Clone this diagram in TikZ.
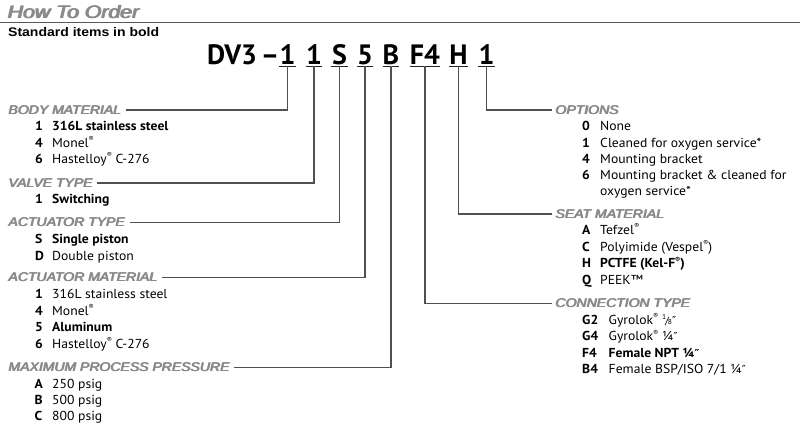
\documentclass[tikz,border=0pt]{standalone}
\usepackage{fontspec}
\setmainfont[FakeStretch=1.05]{PT Sans}
\newfontfamily\codefam{PT Sans}
\newfontfamily\lsans{Liberation Sans}
\newfontfamily\dvfont{DejaVu Sans}
\definecolor{hgray}{HTML}{8A8A8A}
\definecolor{lgray}{HTML}{505050}
\newcommand\regm{\raisebox{0.42em}{\scalebox{0.55}{®}}}
\newcommand\inchm{{\dvfont\scalebox{0.85}{″}}}
\newcommand\eighth{\raisebox{0.35em}{\scalebox{0.55}{1}}\kern-0.08em\scalebox{0.8}{/}\kern-0.08em\scalebox{0.55}{8}}
\newcommand\hx[1]{\scalebox{1.12}[1]{\rlap{#1}\rlap{\kern.45pt#1}\kern.9pt#1}}
\newcommand\tx[1]{\scalebox{1.18}[1]{\rlap{#1}\rlap{\kern.6pt#1}\kern1.2pt#1}}
\newcommand\hdrfont{\lsans\fontsize{12.5}{14}\selectfont\itshape}
\newcommand\itmfont{\fontsize{13}{15}\selectfont}
\newcommand\codefont{\codefam\fontsize{28}{32}\selectfont\bfseries}
\begin{document}
\begin{tikzpicture}[x=1pt,y=-1pt,
  hdr/.style={anchor=base west, inner sep=0pt, text=hgray, font=\hdrfont, text height=8pt, text depth=0pt},
  itm/.style={anchor=base west, inner sep=0pt, font=\itmfont},
  code/.style={anchor=base, inner sep=0pt, font=\codefont, text depth=2pt, minimum width=16pt},
  conn/.style={draw=lgray, line width=1.2pt},
  uline/.style={draw=black!85, line width=1.3pt},
  rule/.style={draw=black!65, line width=1pt}]
\useasboundingbox (0,0) rectangle (800,423);
% title
\node[anchor=base west, inner sep=0pt, text=hgray, font=\lsans\fontsize{18}{22}\selectfont\itshape] (title) at (7,18.5) {\tx{How To Order}};
\coordinate (rl) at (0,22);
\coordinate (rr) at (800,22);
\draw[rule] (rl) -- (rr);
\node[anchor=base west, inner sep=0pt, font=\lsans\fontsize{12.5}{15}\selectfont\bfseries] (std) at (8,36) {\scalebox{1.12}[1]{Standard items in bold}};
% part number
\node[anchor=base west, inner sep=0pt, font=\codefont] (dv) at (207,64) {DV3};
\node[anchor=base, inner sep=0pt, font=\codefont] (dash) at (270,64) {–};
\node[code] (c1) at (287.5,64) {1};
\node[code] (c2) at (314,64) {1};
\node[code] (c3) at (339.5,64) {S};
\node[code] (c4) at (365,64) {5};
\node[code] (c5) at (391,64) {B};
\node[code, minimum width=28pt] (c6) at (425,64) {F4};
\node[code] (c7) at (458.5,64) {H};
\node[code] (c8) at (486.5,64) {1};
\foreach \c in {c1,c2,c3,c4,c5,c6,c7,c8} \draw[uline] (\c.south west) -- (\c.south east);
% left headers
\node[hdr] (bm) at (8,114) {\hx{BODY MATERIAL}};
\node[hdr] (vt) at (8,187) {\hx{VALVE TYPE}};
\node[hdr] (at) at (8,226.7) {\hx{ACTUATOR TYPE}};
\node[hdr] (am) at (8,281.7) {\hx{ACTUATOR MATERIAL}};
\node[hdr] (mp) at (8,371.3) {\hx{MAXIMUM PROCESS PRESSURE}};
% right headers
\node[hdr] (op) at (555,114) {\hx{OPTIONS}};
\node[hdr] (sm) at (555,218) {\hx{SEAT MATERIAL}};
\node[hdr] (ct) at (555,307.7) {\hx{CONNECTION TYPE}};
% connectors
\draw[conn] (c1.south) |- ([xshift=4pt]bm.east);
\draw[conn] (c2.south) |- ([xshift=4pt]vt.east);
\draw[conn] (c3.south) |- ([xshift=4pt]at.east);
\draw[conn] (c4.south) |- ([xshift=4pt]am.east);
\draw[conn] (c5.south) |- ([xshift=4pt]mp.east);
\draw[conn] (c8.south) |- ([xshift=-3pt]op.west);
\draw[conn] (c7.south) |- ([xshift=-3pt]sm.west);
\draw[conn] (c6.south) |- ([xshift=-3pt]ct.west);
% body material
\node[itm] (bm1n) at (35,130.7) {\bfseries 1};
\node[itm] (bm1t) at (52,130.7) {\bfseries 316L stainless steel};
\node[itm] (bm2n) at (35,147) {\bfseries 4};
\node[itm] (bm2t) at (52,147) {Monel\regm};
\node[itm] (bm3n) at (35,163.3) {\bfseries 6};
\node[itm] (bm3t) at (52,163.3) {Hastelloy\regm\ C-276};
% valve type
\node[itm] (vt1n) at (35,203.3) {\bfseries 1};
\node[itm] (vt1t) at (52,203.3) {\bfseries Switching};
% actuator type
\node[itm] (at1n) at (35,243.3) {\bfseries S};
\node[itm] (at1t) at (52,243.3) {\bfseries Single piston};
\node[itm] (at2n) at (35,260) {\bfseries D};
\node[itm] (at2t) at (52,260) {Double piston};
% actuator material
\node[itm] (am1n) at (35,298.3) {\bfseries 1};
\node[itm] (am1t) at (52,298.3) {316L stainless steel};
\node[itm] (am2n) at (35,315) {\bfseries 4};
\node[itm] (am2t) at (52,315) {Monel\regm};
\node[itm] (am3n) at (35,331.7) {\bfseries 5};
\node[itm] (am3t) at (52,331.7) {\bfseries Aluminum};
\node[itm] (am4n) at (35,348.3) {\bfseries 6};
\node[itm] (am4t) at (52,348.3) {Hastelloy\regm\ C-276};
% max pressure
\node[itm] (mp1n) at (34.5,388) {\bfseries A};
\node[itm] (mp1t) at (52,388) {250 psig};
\node[itm] (mp2n) at (34.5,404.3) {\bfseries B};
\node[itm] (mp2t) at (52,404.3) {500 psig};
\node[itm] (mp3n) at (34.5,420.3) {\bfseries C};
\node[itm] (mp3t) at (52,420.3) {800 psig};
% options
\node[itm] (op1n) at (582,130.7) {\bfseries 0};
\node[itm] (op1t) at (600,130.7) {None};
\node[itm] (op2n) at (582,147) {\bfseries 1};
\node[itm] (op2t) at (600,147) {Cleaned for oxygen service*};
\node[itm] (op3n) at (582,163.3) {\bfseries 4};
\node[itm] (op3t) at (600,163.3) {Mounting bracket};
\node[itm] (op4n) at (582,179.3) {\bfseries 6};
\node[itm] (op4t) at (600,179.3) {Mounting bracket \& cleaned for};
\node[itm] (op5t) at (600,195.3) {oxygen service*};
% seat material
\node[itm] (sm1n) at (582,234.3) {\bfseries A};
\node[itm] (sm1t) at (600,234.3) {Tefzel\regm};
\node[itm] (sm2n) at (582,251) {\bfseries C};
\node[itm] (sm2t) at (600,251) {Polyimide (Vespel\regm)};
\node[itm] (sm3n) at (582,267.7) {\bfseries H};
\node[itm] (sm3t) at (600,267.7) {\bfseries PCTFE (Kel-F\regm)};
\node[itm] (sm4n) at (582,284.3) {\bfseries Q};
\node[itm] (sm4t) at (600,284.3) {PEEK™};
% connection type
\node[itm] (ct1n) at (582,324) {\bfseries G2};
\node[itm] (ct1t) at (608.5,324) {Gyrolok\regm\ \eighth\inchm};
\node[itm] (ct2n) at (582,340.5) {\bfseries G4};
\node[itm] (ct2t) at (608.5,340.5) {Gyrolok\regm\ ¼\inchm};
\node[itm] (ct3n) at (582,357) {\bfseries F4};
\node[itm] (ct3t) at (608.5,357) {\bfseries Female NPT ¼\inchm};
\node[itm] (ct4n) at (582,373.5) {\bfseries B4};
\node[itm] (ct4t) at (608.5,373.5) {Female BSP/ISO 7/1 ¼\inchm};
\end{tikzpicture}
\end{document}
